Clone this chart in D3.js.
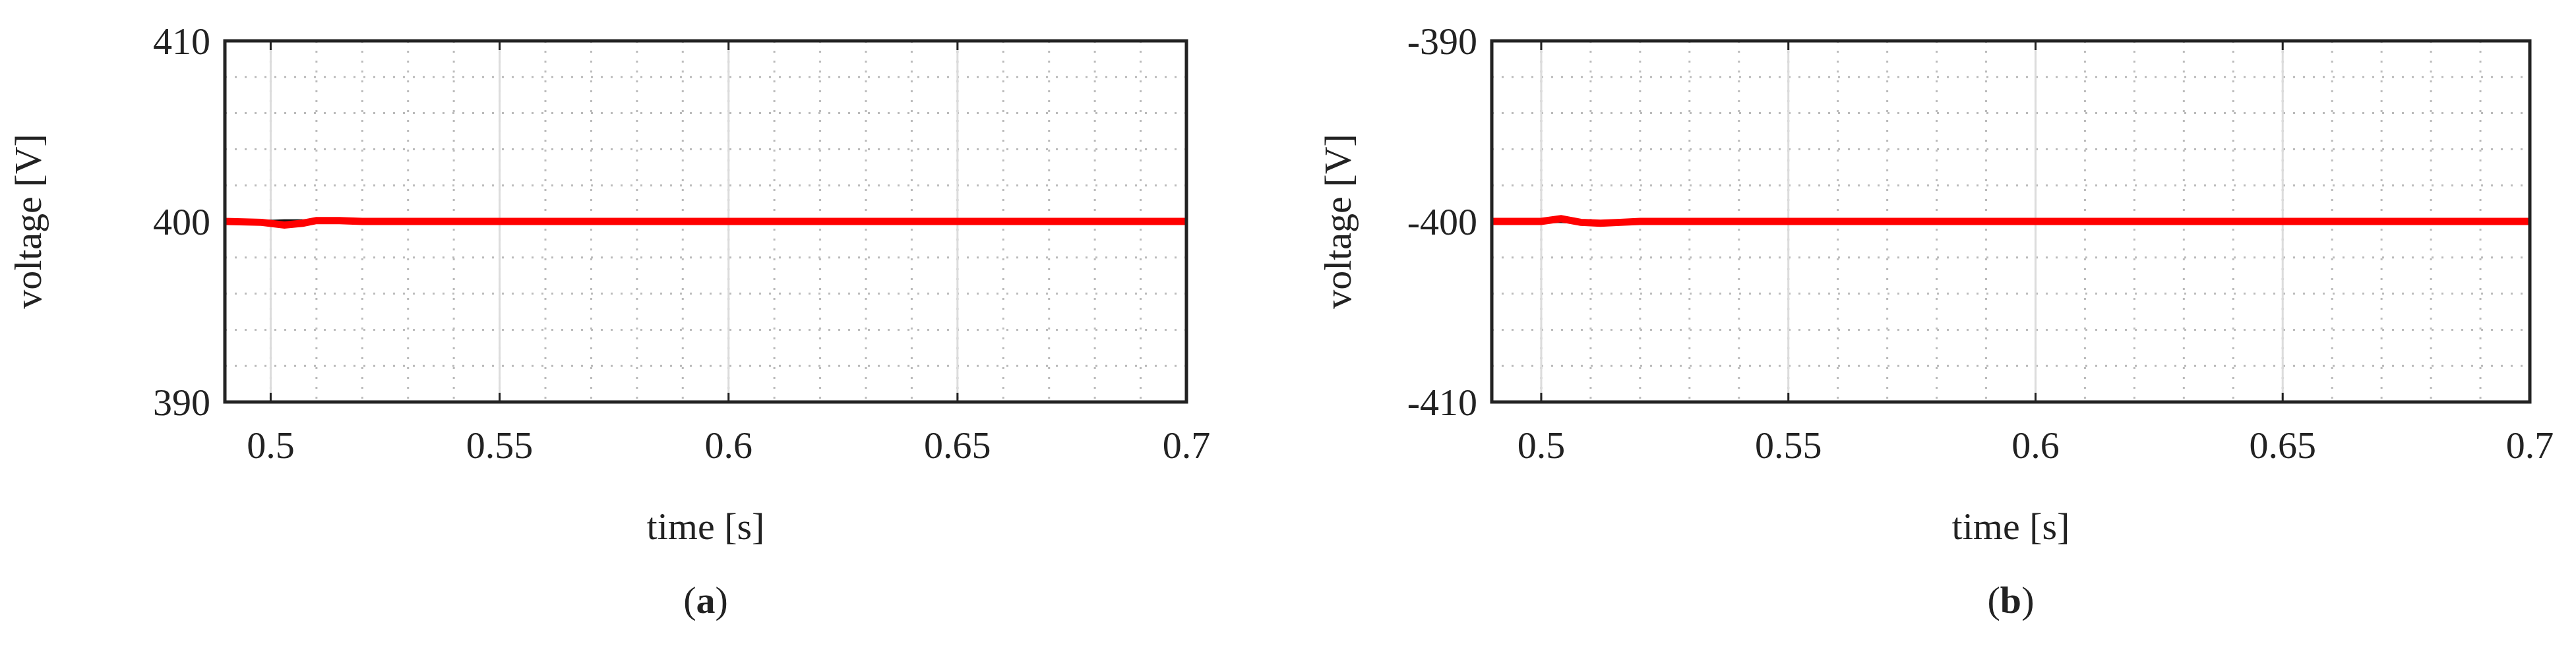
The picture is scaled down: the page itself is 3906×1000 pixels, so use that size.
<!DOCTYPE html>
<html>
<head>
<meta charset="utf-8">
<script src="https://cdn.jsdelivr.net/npm/d3@7"></script>
<style>
body { margin: 0; background: #fff; }
text { font-family: "Liberation Serif", "DejaVu Serif", serif; fill: #222; }
</style>
</head>
<body>
<div id="container"></div>
<script>
// time samples and voltages
var timeA = [0.49, 0.498, 0.503, 0.507, 0.51, 0.515, 0.52, 0.53, 0.55, 0.6, 0.65, 0.7];
var redA = [400, 399.95, 399.8, 399.9, 400.05, 400.05, 400, 400, 400, 400, 400, 400];
var blackA = [400, 400, 400.05, 400.05, 400.02, 400, 400, 400.03, 400, 400, 400, 400];
var timeB = [0.49, 0.5, 0.504, 0.508, 0.512, 0.516, 0.52, 0.55, 0.6, 0.65, 0.7];
var redB = [-400, -400, -399.85, -400.05, -400.1, -400.05, -400, -400, -400, -400, -400];
var blackB = [-400, -400, -400.02, -400.05, -400.02, -400, -400, -400, -400, -400, -400];
var xTicks = [0.5, 0.55, 0.6, 0.65, 0.7];
var yTicksA = [390, 400, 410];
var yTicksB = [-410, -400, -390];

var W = 3906, H = 1000;
var svg = d3.select("#container").append("svg")
    .attr("width", W).attr("height", H);

var panels = [
  { left: 341, right: 1799, time: timeA, red: redA, black: blackA, yt: yTicksA, label: "a", ylabX: 62 },
  { left: 2262, right: 3836, time: timeB, red: redB, black: blackB, yt: yTicksB, label: "b", ylabX: 2048 }
];
var plotTop = 62, plotBottom = 610;

panels.forEach(function(p) {
  var x = d3.scaleLinear().domain([0.49, 0.7]).range([p.left, p.right]);
  var y = d3.scaleLinear().domain([p.yt[0], p.yt[2]]).range([plotBottom, plotTop]);
  var g = svg.append("g");

  // minor dotted grid
  var minorX = d3.range(49, 71).map(function(v) { return v / 100; });
  var minorY = d3.range(p.yt[0] + 2, p.yt[2], 2);
  g.selectAll(".mx").data(minorX).enter().append("line")
    .attr("x1", d => x(d)).attr("x2", d => x(d)).attr("y1", plotTop).attr("y2", plotBottom)
    .attr("stroke", "#bbb").attr("stroke-width", 3).attr("stroke-dasharray", "3,12");
  g.selectAll(".my").data(minorY).enter().append("line")
    .attr("x1", p.left).attr("x2", p.right).attr("y1", d => y(d)).attr("y2", d => y(d))
    .attr("stroke", "#bbb").attr("stroke-width", 3).attr("stroke-dasharray", "3,12");
  // major grid
  g.selectAll(".gx").data(xTicks).enter().append("line")
    .attr("x1", d => x(d)).attr("x2", d => x(d)).attr("y1", plotTop).attr("y2", plotBottom)
    .attr("stroke", "#dcdcdc").attr("stroke-width", 3);

  var line = d3.line().x((d, i) => x(p.time[i])).y(d => y(d));
  g.append("path").datum(p.black).attr("d", line)
    .attr("fill", "none").attr("stroke", "#111").attr("stroke-width", 4);
  g.append("path").datum(p.red).attr("d", line)
    .attr("fill", "none").attr("stroke", "#ff0000").attr("stroke-width", 11);

  // ticks inside
  g.selectAll(".tb").data(xTicks).enter().append("line")
    .attr("x1", d => x(d)).attr("x2", d => x(d)).attr("y1", plotBottom).attr("y2", plotBottom - 14)
    .attr("stroke", "#222").attr("stroke-width", 3);
  g.selectAll(".tt").data(xTicks).enter().append("line")
    .attr("x1", d => x(d)).attr("x2", d => x(d)).attr("y1", plotTop).attr("y2", plotTop + 14)
    .attr("stroke", "#222").attr("stroke-width", 3);

  g.append("rect").attr("x", p.left).attr("y", plotTop)
    .attr("width", p.right - p.left).attr("height", plotBottom - plotTop)
    .attr("fill", "none").attr("stroke", "#222").attr("stroke-width", 5);

  g.selectAll(".xl").data(xTicks).enter().append("text")
    .attr("x", d => x(d)).attr("y", 695).attr("text-anchor", "middle")
    .attr("font-size", 58).text(d => String(d));
  g.selectAll(".yl").data(p.yt).enter().append("text")
    .attr("x", p.left - 22).attr("y", d => y(d) + 20).attr("text-anchor", "end")
    .attr("font-size", 58).text(d => String(d));

  g.append("text").attr("x", (p.left + p.right) / 2).attr("y", 818)
    .attr("text-anchor", "middle").attr("font-size", 58).text("time [s]");
  g.append("text").attr("transform", "translate(" + p.ylabX + "," + (plotTop + plotBottom) / 2 + ") rotate(-90)")
    .attr("text-anchor", "middle").attr("font-size", 58).text("voltage [V]");

  var cap = g.append("text").attr("x", (p.left + p.right) / 2).attr("y", 930)
    .attr("text-anchor", "middle").attr("font-size", 58);
  cap.append("tspan").text("(");
  cap.append("tspan").attr("font-weight", "bold").text(p.label);
  cap.append("tspan").text(")");
});
</script>
</body>
</html>
